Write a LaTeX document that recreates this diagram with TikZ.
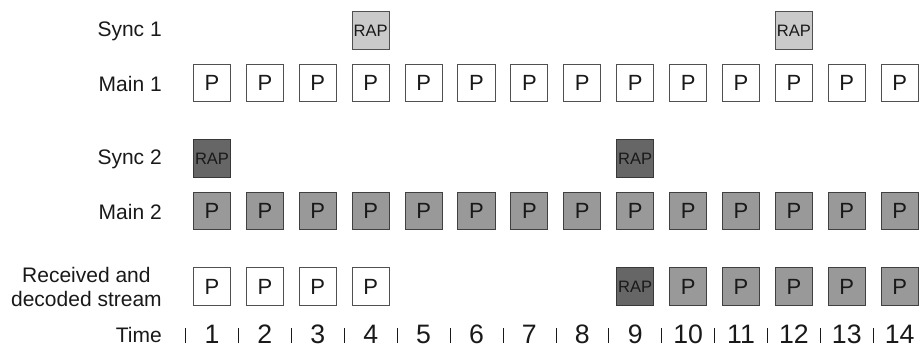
\documentclass[tikz,border=0pt]{standalone}
\usepackage{fontspec}
\setmainfont{Liberation Sans}
\usetikzlibrary{positioning}
\definecolor{RAPlight}{RGB}{202,202,202}
\definecolor{RAPdark}{RGB}{102,102,102}
\definecolor{MAINgray}{RGB}{153,153,153}
\definecolor{EDGEgray}{RGB}{80,80,80}
\definecolor{TXTdark}{RGB}{25,25,25}
\tikzset{
  ts frame/.style={
    draw=EDGEgray,
    line width=0.75pt,
    minimum size=27.8pt,
    inner sep=0pt,
    text=TXTdark,
    font=\fontsize{16.5}{18}\selectfont
  },
  ts plain/.style={ts frame,fill=white},
  ts main/.style={ts frame,fill=MAINgray,draw=EDGEgray!80!black},
  ts rapa/.style={ts frame,fill=RAPlight,font=\fontsize{12.4}{14}\selectfont},
  ts rapb/.style={ts frame,fill=RAPdark,draw=EDGEgray!70!black,font=\fontsize{12.4}{14}\selectfont},
  ts label/.style={
    anchor=east,
    align=center,
    inner sep=0pt,
    text=TXTdark,
    font=\fontsize{15.75}{17.3}\selectfont
  },
  ts time/.style={inner sep=0pt,text=TXTdark,font=\fontsize{20}{22}\selectfont},
  ts tick/.style={line width=0.6pt,draw=TXTdark}
}

\begin{document}
\begin{tikzpicture}[x=0.75pt,y=-0.75pt]
  \useasboundingbox (0,0) rectangle (924,347);

  % row labels
  \node[ts label] (lab-sync1) at (162,31) {Sync 1};
  \node[ts label] (lab-main1) at (162,84) {Main 1};
  \node[ts label] (lab-sync2) at (162,159) {Sync 2};
  \node[ts label] (lab-main2) at (162,212) {Main 2};
  \node[ts label] (lab-recv) at (162,287) {Received and\\decoded stream};
  \node[ts label,anchor=base east] (lab-time) at (162,342.5) {Time};

  % sync streams
  \node[ts rapa] (sync1-4) at (212+3*52.9,30.5) {RAP};
  \node[ts rapa] (sync1-12) at (212+11*52.9,30.5) {RAP};
  \node[ts rapb] (sync2-1) at (212,158.5) {RAP};
  \node[ts rapb] (sync2-9) at (212+8*52.9,158.5) {RAP};

  % main streams and time axis
  \foreach \i in {1,...,14}{
    \node[ts plain] (main1-\i) at ({212+(\i-1)*52.9},83) {P};
    \node[ts main] (main2-\i) at ({212+(\i-1)*52.9},211) {P};
    \node[ts time,anchor=base] (time-\i) at ({212+(\i-1)*52.9},343) {\i};
    \draw[ts tick] ({185.6+(\i-1)*52.9},328) -- ({185.6+(\i-1)*52.9},343);
  }

  % received stream
  \foreach \i in {1,...,4}
    \node[ts plain] (recv-\i) at ({212+(\i-1)*52.9},286.5) {P};
  \node[ts rapb] (recv-9) at (212+8*52.9,286.5) {RAP};
  \foreach \i in {10,...,14}
    \node[ts main] (recv-\i) at ({212+(\i-1)*52.9},286.5) {P};
\end{tikzpicture}
\end{document}
